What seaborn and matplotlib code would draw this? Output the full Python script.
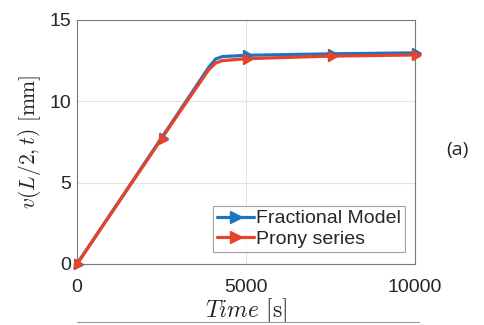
import numpy as np
import pandas as pd
import matplotlib
matplotlib.use("Agg")
import matplotlib.pyplot as plt
from matplotlib.lines import Line2D
import seaborn as sns

# ---- data ----
time_s = [0, 1000, 2000, 2500, 3000, 3900, 4100, 4300, 5000, 7500, 10000]
fractional = [0, 3.1, 6.2, 7.75, 9.3, 12.1, 12.6, 12.75, 12.83, 12.92, 12.98]
prony = [0, 3.08, 6.15, 7.7, 9.23, 11.95, 12.35, 12.5, 12.62, 12.78, 12.85]
marker_t = [0, 2500, 5000, 7500, 10000]
marker_frac = [0, 7.75, 12.83, 12.92, 12.98]
marker_prony = [0, 7.7, 12.62, 12.78, 12.85]
series_names = ["Fractional Model", "Prony series"]
xticks = [0, 5000, 10000]
yticks = [0, 5, 10, 15]

blue = "#1f74c0"
red = "#e5442a"

sns.set_theme(style="white")
plt.rcParams["font.family"] = ["Liberation Sans", "DejaVu Sans"]
plt.rcParams["mathtext.fontset"] = "cm"

fig = plt.figure(figsize=(4.84, 3.25), dpi=100)
ax = fig.add_axes([77 / 484, 61 / 325, 338 / 484, 244 / 325])

df = pd.DataFrame({
    "t": time_s * 2,
    "v": fractional + prony,
    "s": [series_names[0]] * len(time_s) + [series_names[1]] * len(time_s),
})
sns.lineplot(data=df, x="t", y="v", hue="s", palette=[blue, red], ax=ax,
             linewidth=2.3, legend=False, zorder=3)

angles = [146.5, 146.5, -90, -90, -90]
for mt, mf, mp, a in zip(marker_t, marker_frac, marker_prony, angles):
    ax.plot([mt], [mf], marker=(3, 0, a), color=blue, markersize=8.5,
            linestyle="none", zorder=4, clip_on=False)
    ax.plot([mt], [mp], marker=(3, 0, a), color=red, markersize=8.5,
            linestyle="none", zorder=5, clip_on=False)

ax.set_xlim(0, 10000)
ax.set_ylim(0, 15)
ax.set_xticks(xticks)
ax.set_yticks(yticks)
ax.set_xticklabels([str(x) for x in xticks], fontsize=14, color="#262626")
ax.set_yticklabels([str(y) for y in yticks], fontsize=14, color="#262626")
ax.tick_params(axis="x", direction="in", length=3, color="#555555", pad=11)
ax.tick_params(axis="y", direction="in", length=3, color="#555555", pad=4)
ax.grid(True, color="#e3e3e3", linewidth=0.8)
for sp in ax.spines.values():
    sp.set_color("#7a7a7a")
    sp.set_linewidth(0.8)

ax.set_xlabel(r"$Time\ [\mathrm{s}]$", fontsize=17, labelpad=0, color="#262626")
ax.set_ylabel(r"$v(L/2,t)\ [\mathrm{mm}]$", fontsize=15.5, labelpad=5, color="#262626")

handles = [Line2D([], [], color=blue, marker=">", markersize=8, linewidth=2.3),
           Line2D([], [], color=red, marker=">", markersize=8, linewidth=2.3)]
leg = ax.legend(handles, series_names, loc="lower right",
                bbox_to_anchor=(0.97, 0.05), fontsize=14, frameon=True,
                fancybox=False, handlelength=1.9, handletextpad=0.1,
                borderpad=0.2, labelspacing=0.15, borderaxespad=0)
leg.get_frame().set_edgecolor("#8a8a8a")
leg.get_frame().set_linewidth(0.8)

fig.text(457 / 484, 1 - 150 / 325, "(a)", fontsize=14, ha="center",
         va="center", color="#262626", family=["Open Sans", "DejaVu Sans"])

# fragment of the next panel's top edge
fig.add_artist(Line2D([77 / 484, 419 / 484], [1 - 322 / 325] * 2,
                      color="#9a9a9a", linewidth=0.8))

fig.savefig("out.png", dpi=100)
